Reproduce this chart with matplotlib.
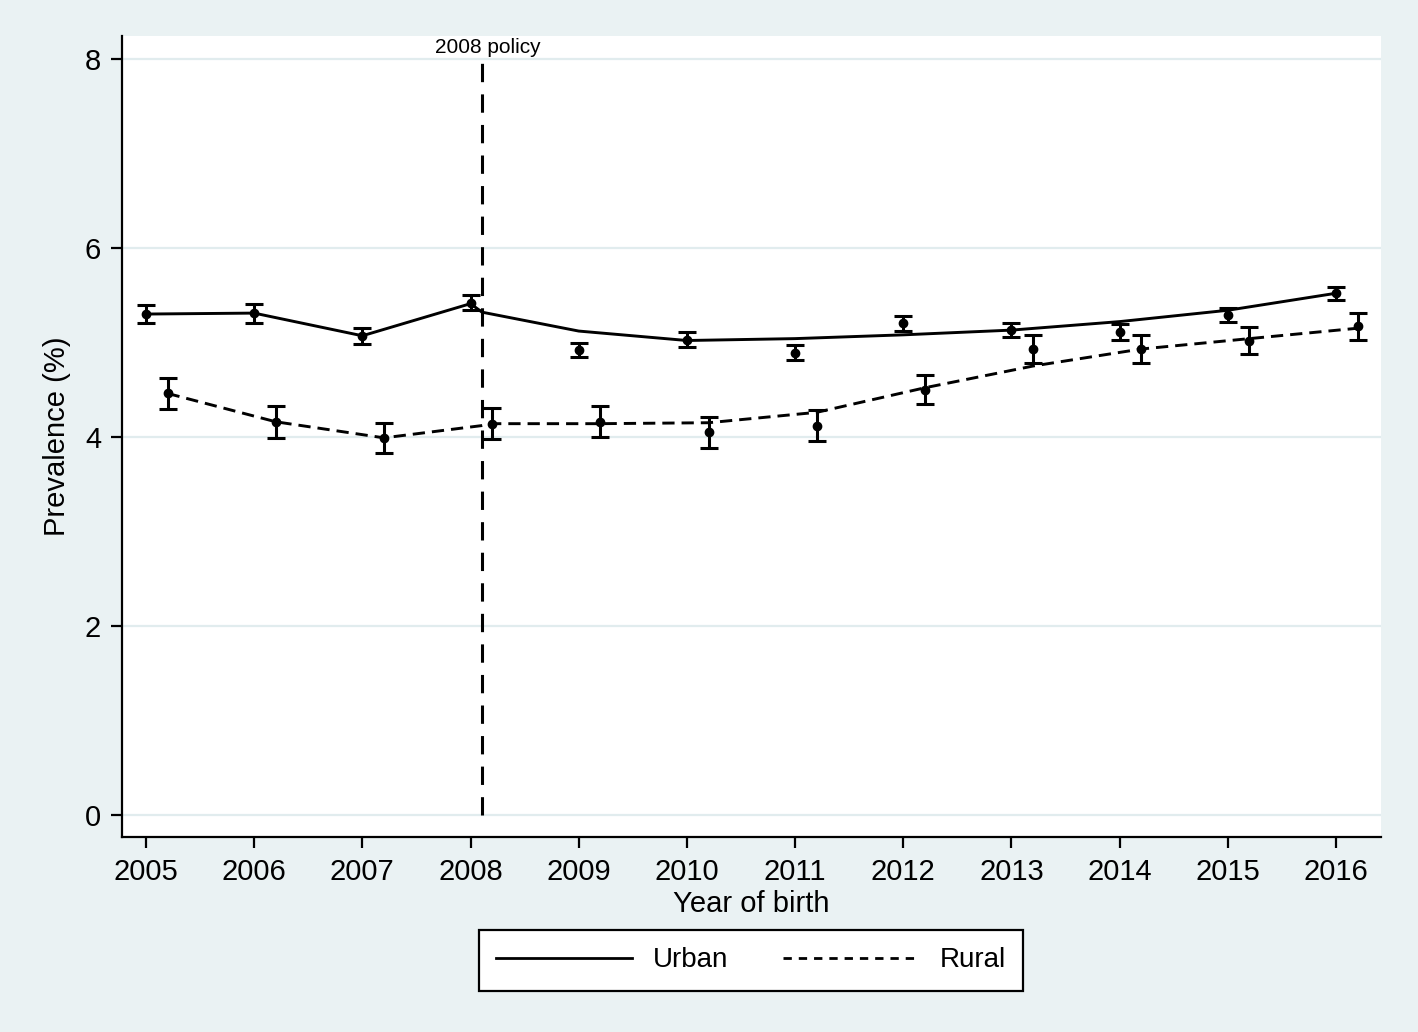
import numpy as np
import matplotlib
matplotlib.use('Agg')
import matplotlib.pyplot as plt

plt.rcParams['font.family'] = ['Liberation Sans', 'DejaVu Sans']

years = np.arange(2005, 2017)
policy_year = 2008.106

# observed prevalence with 95% CI half widths
urban_obs = [5.30, 5.31, 5.07, 5.42, 4.92, 5.03, 4.89, 5.20, 5.13, 5.11, 5.29, 5.52]
urban_err = [0.10, 0.10, 0.085, 0.08, 0.075, 0.08, 0.08, 0.08, 0.075, 0.08, 0.07, 0.07]
rural_obs = [4.46, 4.16, 3.99, 4.14, 4.16, 4.05, 4.12, 4.50, 4.93, 4.93, 5.02, 5.17]
rural_err = [0.165, 0.17, 0.16, 0.165, 0.165, 0.165, 0.16, 0.155, 0.15, 0.15, 0.14, 0.14]

# fitted lines
urban_fit_x = [2005, 2006, 2007, 2008, policy_year, 2009, 2010, 2011, 2012, 2013, 2014, 2015, 2016]
urban_fit = [5.30, 5.31, 5.07, 5.41, 5.32, 5.12, 5.02, 5.04, 5.08, 5.13, 5.22, 5.34, 5.52]
rural_fit_x = [2005.2, 2006.2, 2007.2, policy_year, 2008.2, 2009.2, 2010.2, 2011.2, 2012.2,
               2013.2, 2014.2, 2015.2, 2016.2]
rural_fit = [4.46, 4.16, 3.99, 4.12, 4.14, 4.14, 4.15, 4.26, 4.52, 4.75, 4.93, 5.04, 5.15]

bg = '#EAF2F3'
fig = plt.figure(figsize=(14.18, 10.32), dpi=100, facecolor=bg)
ax = fig.add_axes([0.0860, 0.1890, 0.8879, 0.7762])
ax.set_facecolor('white')

ax.set_xlim(2004.778, 2016.416)
ax.set_ylim(-0.233, 8.243)
ax.set_yticks([0, 2, 4, 6, 8])
ax.set_xticks(years)
for v in [0, 2, 4, 6, 8]:
    ax.axhline(v, color='#E1ECEE', lw=1.6, zorder=0)

for s in ['top', 'right']:
    ax.spines[s].set_visible(False)
for s in ['left', 'bottom']:
    ax.spines[s].set_linewidth(1.6)
ax.tick_params(axis='both', length=8, width=1.6, labelsize=21)
ax.tick_params(axis='y', pad=7)
ax.tick_params(axis='x', pad=7)

dash_rural = (0, (4.2, 2.4))
ax.plot(urban_fit_x, urban_fit, color='black', lw=2.1, zorder=3)
ax.plot(rural_fit_x, rural_fit, color='black', lw=2.1, ls=dash_rural, zorder=3)

ax.errorbar(years, urban_obs, yerr=urban_err, fmt='o', color='black', ms=6,
            elinewidth=2.2, capsize=6.5, capthick=2.2, zorder=4)
ax.errorbar(years + 0.2, rural_obs, yerr=rural_err, fmt='o', color='black', ms=6,
            elinewidth=2.2, capsize=6.5, capthick=2.2, zorder=4)

ax.plot([policy_year, policy_year], [0, 8], color='black', lw=2.2, ls=(0, (6, 4)), zorder=2)
ax.text(policy_year + 0.05, 8.06, '2008 policy', ha='center', va='baseline', fontsize=15)

ax.set_xlabel('Year of birth', fontsize=21, labelpad=3)
ax.set_ylabel('Prevalence (%)', fontsize=21, labelpad=10)

h1, = ax.plot([], [], color='black', lw=2.0)
h2, = ax.plot([], [], color='black', lw=2.0, ls=(0, (3, 2.5)))
leg = fig.legend([h1, h2], ['Urban', 'Rural'], ncol=2, loc='center',
                 bbox_to_anchor=(0.5296, 0.0693), fontsize=20, frameon=True,
                 fancybox=False, edgecolor='black', framealpha=1, facecolor='white',
                 handlelength=4.9, handletextpad=0.72, columnspacing=2.0,
                 borderpad=0.62)
leg.get_frame().set_linewidth(1.6)

fig.savefig('out.png', dpi=100, facecolor=bg)
